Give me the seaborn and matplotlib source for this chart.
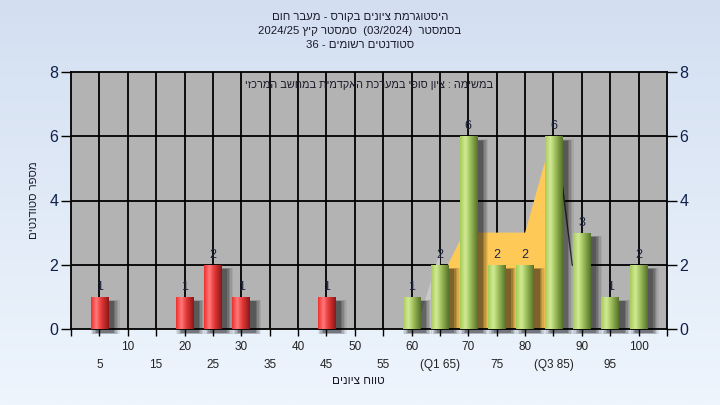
import numpy as np
import pandas as pd
import matplotlib
matplotlib.use("Agg")
import matplotlib.pyplot as plt
from matplotlib.colors import LinearSegmentedColormap
from matplotlib.patches import Rectangle
import seaborn as sns

# ---------------- data ----------------
scores = [5, 10, 15, 20, 25, 30, 35, 40, 45, 50, 55, 60, 65, 70, 75, 80, 85, 90, 95, 100]
counts = [1, 0, 0, 1, 2, 1, 0, 0, 1, 0, 0, 1, 2, 6, 2, 2, 6, 3, 1, 2]
tick_labels = ["5", "10", "15", "20", "25", "30", "35", "40", "45", "50", "55", "60",
               "(Q1 65)", "70", "75", "80", "(Q3 85)", "90", "95", "100"]
pass_mark = 60
# quartile band (yellow) and its grey tails
band_x = [65, 69.2, 80, 84.6]
band_y = [1.5, 3.0, 3.0, 5.9]
tail_left_x = [60.8, 65]
tail_left_y = [0, 2.4]
tail_right_x = [85.5, 88.3]
tail_right_y = [6.0, 2.0]

# Hebrew text (visual order, since matplotlib draws left-to-right)
title_lines = ["םוח רבעמ - סרוקב םינויצ תמרגוטסיה",
               "2024/25 ץיק רטסמס  (03/2024)  רטסמסב",
               "36 - םימושר םיטנדוטס"]
inner_text = "יזכרמה בשחמב תימדקאה תכרעמב יפוס ןויצ : המישמב"
y_label = "םיטנדוטס רפסמ"
x_label = "םינויצ חווט"

df = pd.DataFrame({"score": scores, "count": counts})
df["group"] = np.where(df["score"] < pass_mark, "fail", "pass")

sns.set_theme(style="white")
plt.rcParams["font.family"] = ["Liberation Sans", "DejaVu Sans"]

fig = plt.figure(figsize=(7.2, 4.05), dpi=100)

# background gradient
bg = fig.add_axes([0, 0, 1, 1], zorder=-10)
grad = np.linspace(0, 1, 256).reshape(-1, 1)
bg_cmap = LinearSegmentedColormap.from_list("bg", ["#d3dff1", "#eef5fd"])
bg.imshow(grad, aspect="auto", cmap=bg_cmap, extent=[0, 1, 0, 1])
bg.set_axis_off()

ax = fig.add_axes([71 / 720, 1 - 329 / 405, (667 - 71) / 720, (329 - 72) / 405])
ax.set_facecolor("#b3b3b3")

sns.barplot(data=df, x="score", y="count", hue="group",
            palette={"fail": "#e03030", "pass": "#9cc050"},
            native_scale=True, width=0.62, dodge=False, legend=False,
            ax=ax, zorder=3, linewidth=0)

ax.set_xlim(0, 105)
ax.set_ylim(0, 8)

# quartile band
ax.fill(tail_left_x + [tail_left_x[-1]], tail_left_y + [0], color="#c9c9c9", zorder=1.5, lw=0)
ax.fill(band_x + [band_x[-1], band_x[0]], band_y + [0, 0], color="#ffc957", zorder=1.6, lw=0)
ax.fill(tail_right_x + [tail_right_x[-1], tail_right_x[0]], tail_right_y + [0, 0],
        color="#c6c6c6", zorder=1.5, lw=0)
ax.plot(tail_right_x, tail_right_y, color="#3a3a3a", lw=1.0, zorder=1.7)

# grid
for v in scores:
    ax.axvline(v, color="black", lw=1.3, zorder=1)
for v in [2, 4, 6]:
    ax.axhline(v, color="black", lw=1.3, zorder=1)

# cylinder gradients + shadows
red_cmap = LinearSegmentedColormap.from_list(
    "r", [(0, "#ee2e2e"), (0.3, "#ff7a7a"), (0.55, "#ea3c3c"), (1, "#8a1616")])
green_cmap = LinearSegmentedColormap.from_list(
    "g", [(0, "#a6cb55"), (0.3, "#d2ea98"), (0.55, "#a3c45e"), (1, "#55722b")])
hgrad = np.linspace(0, 1, 128).reshape(1, -1)
for p in list(ax.patches):
    if not isinstance(p, Rectangle):
        continue
    x0, w, h = p.get_x(), p.get_width(), p.get_height()
    if h <= 0:
        p.set_visible(False)
        continue
    cx = x0 + w / 2
    cmap = red_cmap if cx < pass_mark else green_cmap
    # soft shadow (right side / slightly below)
    for k, a in enumerate([0.07, 0.09, 0.12, 0.16, 0.2]):
        grow = 0.25 * (4 - k)
        sh = Rectangle((x0 + 1.0 - grow, -0.12 - grow * 0.05), w + 2 * grow,
                       h - 0.02 + grow * 0.05 * 2, color="black", alpha=a, lw=0,
                       zorder=2, clip_on=False)
        ax.add_patch(sh)
    im = ax.imshow(hgrad, cmap=cmap, aspect="auto", extent=[x0, x0 + w, 0, h],
                   zorder=3, interpolation="bilinear")
    im.set_clip_path(p)
    p.set_facecolor("none")
    # value label
    ax.text(cx, h + 0.12, str(int(round(h))), ha="center", va="bottom",
            fontsize=9, color="#1c2440", zorder=5)

ax.set_xlim(0, 105)
ax.set_ylim(0, 8)

# ticks
ax.set_xticks([0] + scores + [105])
labels = [""] + [("\n" + t) if (s // 5) % 2 == 1 else t for s, t in zip(scores, tick_labels)] + [""]
ax.set_xticklabels(labels, fontsize=8.5, color="#222222")
for lab in ax.get_xticklabels():
    lab.set_linespacing(1.65)
ax.set_yticks([0, 2, 4, 6, 8])
ax.set_yticklabels(["0", "2", "4", "6", "8"], fontsize=11.5, color="#10204a")
ax.tick_params(axis="x", direction="out", length=5, width=1, color="black", pad=4,
               bottom=True)
ax.tick_params(axis="y", direction="out", length=7, width=1, color="black", pad=2,
               left=True, right=True, labelleft=True, labelright=True)
for s in ["left", "right", "bottom", "top"]:
    ax.spines[s].set_visible(True)
    ax.spines[s].set_color("black")
    ax.spines[s].set_linewidth(1.3)
ax.set_xlabel("")
ax.set_ylabel("")

# texts
for i, line in enumerate(title_lines):
    fig.text(0.5, 1 - (17 + 14 * i) / 405, line, ha="center", va="center",
             fontsize=8.2, color="#1a1a2a")
fig.text(369 / 720, 1 - 85 / 405, inner_text, ha="center", va="center",
         fontsize=7.8, color="#1a1a2a")
fig.text(34 / 720, 1 - 200 / 405, y_label, ha="center", va="center",
         rotation=90, fontsize=8.2, color="#1a1a2a")
fig.text(358 / 720, 1 - 381 / 405, x_label, ha="center", va="center",
         fontsize=8.5, color="#1a1a2a")

fig.savefig("out.png", dpi=100)
